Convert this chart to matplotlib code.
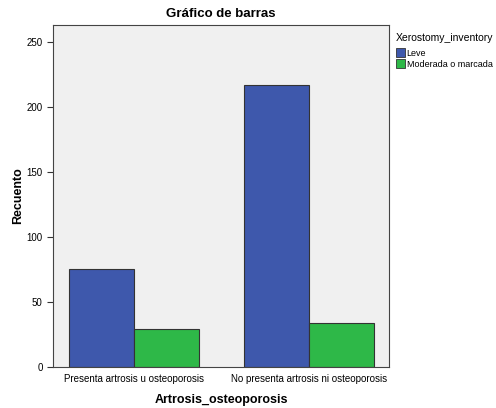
import numpy as np
import matplotlib
matplotlib.use("Agg")
import matplotlib.pyplot as plt
from matplotlib.patches import Patch

plt.rcParams['font.family'] = ['Liberation Sans', 'DejaVu Sans']

categories = ["Presenta artrosis u osteoporosis", "No presenta artrosis ni osteoporosis"]
series_names = ["Leve", "Moderada o marcada"]
leve = [75, 217]
moderada = [29, 34]
colors = ['#3E58AC', '#2EB848']

fig = plt.figure(figsize=(4.96, 4.08), dpi=100)
ax = fig.add_axes([0.107, 0.1005, 0.677, 0.8385])
ax.set_facecolor('#F0F0F0')

x = np.arange(len(categories))
width = 0.371
ax.bar(x - width / 2, leve, width, color=colors[0], edgecolor='#333333', linewidth=0.8)
ax.bar(x + width / 2, moderada, width, color=colors[1], edgecolor='#333333', linewidth=0.8)

ax.set_xlim(-0.463, 1.457)
ax.set_ylim(0, 263)
ax.set_yticks([0, 50, 100, 150, 200, 250])
ax.set_xticks(x)
ax.set_xticklabels(categories)
ax.tick_params(axis='x', length=0, labelsize=7, pad=5)
ax.tick_params(axis='y', length=4, width=0.8, labelsize=7, color='#333333')
for s in ax.spines.values():
    s.set_color('#444444')
    s.set_linewidth(0.8)

ax.set_title("Gráfico de barras", fontsize=9.5, fontweight='bold', pad=6)
ax.set_ylabel("Recuento", fontsize=9, fontweight='bold')
ax.yaxis.set_label_coords(-0.086, 0.5)
ax.set_xlabel("Artrosis_osteoporosis", fontsize=9, fontweight='bold', labelpad=7)

handles = [Patch(facecolor=c, edgecolor='#333333', linewidth=0.6) for c in colors]
leg = fig.legend(handles, series_names, title="Xerostomy_inventory", loc='upper left',
                 bbox_to_anchor=(0.785, 0.935), frameon=False, fontsize=6.5,
                 title_fontsize=7.5, handlelength=1.0, handleheight=1.1,
                 handletextpad=0.2, labelspacing=0.15, borderpad=0.2)
leg._legend_box.align = "left"
leg._legend_box.sep = 4

fig.savefig("out.png", dpi=100)
